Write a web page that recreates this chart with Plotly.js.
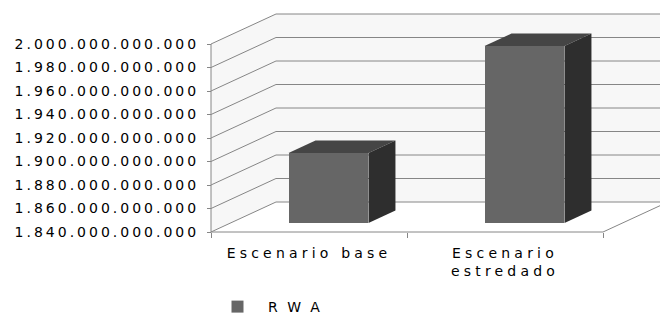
<!DOCTYPE html>
<html>
<head>
<meta charset="utf-8">
<script src="https://cdn.plot.ly/plotly-3.0.1.min.js"></script>
<style>
  html, body { margin: 0; padding: 0; background: #fff; }
  #chart { width: 660px; height: 318px; }
  .ytick text { letter-spacing: 3px; }
  .xtick text { letter-spacing: 4.2px; }
  .legendtext { letter-spacing: 10px; }
</style>
</head>
<body>
<div id="chart"></div>
<script>
// ---- data ----
const categories = ['Escenario base', 'Escenario estredado'];
const categoryLabels = ['Escenario base', 'Escenario<br>estredado'];
const seriesName = 'RWA';
const rwaValues = [1899600000000, 1990600000000];
const yTickValues = [1840000000000, 1860000000000, 1880000000000, 1900000000000,
                     1920000000000, 1940000000000, 1960000000000, 1980000000000, 2000000000000];

// ---- 3D projection parameters (oblique depth in axis units) ----
const yMin = yTickValues[0], yMax = yTickValues[yTickValues.length - 1];
const nCat = categories.length;
const xLeft = -0.5, xRight = nCat - 0.5;
const depthX = 0.3316;                      // full depth, category units
const depthY = (yMax - yMin) * 30 / 188;    // full depth, value units
const barFront = 0.30;                      // bar front face depth fraction
const barDepth = 0.415;                     // bar depth fraction
const barWidth = 0.408;

const gridColor = '#868686';
const wallFill = '#f7f7f7';
const shapes = [];

// left wall
shapes.push({type:'path', xref:'x', yref:'y', layer:'below', line:{width:0}, fillcolor: wallFill,
  path:`M${xLeft},${yMin} L${xLeft+depthX},${yMin+depthY} L${xLeft+depthX},${yMax+depthY} L${xLeft},${yMax} Z`});
// back wall
shapes.push({type:'rect', xref:'x', yref:'y', layer:'below', line:{width:0}, fillcolor: wallFill,
  x0: xLeft+depthX, x1: xRight+5, y0: yMin+depthY, y1: yMax+depthY});
// floor
shapes.push({type:'path', xref:'x', yref:'y', layer:'below', line:{width:0}, fillcolor:'#ffffff',
  path:`M${xLeft},${yMin} L${xRight},${yMin} L${xRight+depthX},${yMin+depthY} L${xLeft+depthX},${yMin+depthY} Z`});
// gridlines: left wall diagonals + back wall horizontals
yTickValues.forEach(v => {
  shapes.push({type:'line', xref:'x', yref:'y', layer:'below', line:{color:gridColor, width:1},
    x0:xLeft, y0:v, x1:xLeft+depthX, y1:v+depthY});
  shapes.push({type:'line', xref:'x', yref:'y', layer:'below', line:{color:gridColor, width:1},
    x0:xLeft+depthX, y0:v+depthY, x1:xRight+5, y1:v+depthY});
});
// value axis line (front left edge)
shapes.push({type:'line', xref:'x', yref:'y', layer:'below', line:{color:gridColor, width:1},
  x0:xLeft, y0:yMin, x1:xLeft, y1:yMax});
// floor front edge + right diagonal
shapes.push({type:'line', xref:'x', yref:'y', layer:'below', line:{color:gridColor, width:1},
  x0:xLeft, y0:yMin, x1:xRight, y1:yMin});
shapes.push({type:'line', xref:'x', yref:'y', layer:'below', line:{color:gridColor, width:1},
  x0:xRight, y0:yMin, x1:xRight+depthX, y1:yMin+depthY});

// bar top & side faces
const fdx = barFront*depthX, fdy = barFront*depthY;
const bdx = barDepth*depthX, bdy = barDepth*depthY;
const barBase = yMin + fdy;
rwaValues.forEach((v, i) => {
  const xl = i + fdx - barWidth/2, xr = i + fdx + barWidth/2;
  const yt = v + fdy;
  shapes.push({type:'path', xref:'x', yref:'y', layer:'above', line:{width:0}, fillcolor:'#454545',
    path:`M${xl},${yt} L${xr},${yt} L${xr+bdx},${yt+bdy} L${xl+bdx},${yt+bdy} Z`});
  shapes.push({type:'path', xref:'x', yref:'y', layer:'above', line:{width:0}, fillcolor:'#2e2e2e',
    path:`M${xr},${barBase} L${xr},${yt} L${xr+bdx},${yt+bdy} L${xr+bdx},${barBase+bdy} Z`});
});

const trace = {
  type: 'bar',
  name: seriesName,
  x: categories.map((c, i) => i),
  y: rwaValues.map(v => v - yMin),
  base: rwaValues.map(() => barBase),
  width: barWidth,
  offset: fdx - barWidth/2,
  marker: {color:'#666666', line:{width:0}},
  showlegend: true,
  hoverinfo: 'none'
};

// pixel mapping: front plane x from 211 to 603, y from 232 (yMin) to 44 (yMax)
const W = 660, H = 318;
const pxPerCat = (603 - 211) / nCat;
const xr0 = xLeft - 211 / pxPerCat;
const xr1 = xRight + (W - 603) / pxPerCat;
const valPerPx = (yMax - yMin) / 188;
const yr0 = yMin - (H - 232) * valPerPx;
const yr1 = yMax + 44 * valPerPx;

const font = {family: '"DejaVu Sans", sans-serif', size: 14, color: '#000000'};

const layout = {
  width: W, height: H,
  margin: {l:0, r:0, t:0, b:0, pad:0, autoexpand: false},
  paper_bgcolor: '#ffffff', plot_bgcolor: 'rgba(0,0,0,0)',
  separators: ',.',
  font: font,
  bargap: 0,
  xaxis: {
    type: 'linear', range: [xr0, xr1], domain: [0, 1],
    anchor: 'free', position: (H - 232) / H,
    showgrid: false, zeroline: false, showline: false, automargin: false,
    tickmode: 'array', tickvals: categories.map((c, i) => i), ticktext: categoryLabels,
    ticks: '', tickfont: font, ticklabelstandoff: 11,
    minor: {tickmode: 'array', tickvals: [-0.5, 0.5, 1.5], ticks: 'outside', ticklen: 5,
            tickcolor: gridColor, tickwidth: 1, showgrid: false},
    fixedrange: true
  },
  yaxis: {
    type: 'linear', range: [yr0, yr1], domain: [0, 1],
    anchor: 'free', position: 211 / W, side: 'left', automargin: false,
    showgrid: false, zeroline: false, showline: false,
    tickmode: 'array', tickvals: yTickValues, tickformat: ',.0f',
    ticks: 'outside', ticklen: 4, tickcolor: gridColor, tickwidth: 1,
    tickfont: font, ticklabelstandoff: 5,
    fixedrange: true
  },
  shapes: shapes,
  showlegend: true,
  legend: {
    x: 207 / W, y: (H - 307) / H, xanchor: 'left', yanchor: 'middle',
    orientation: 'h', itemwidth: 51, entrywidth: 150,
    font: {family: '"DejaVu Sans", sans-serif', size: 14, color: '#000000'},
    bgcolor: 'rgba(0,0,0,0)', borderwidth: 0
  }
};

Plotly.newPlot('chart', [trace], layout, {displayModeBar: false, staticPlot: true});
</script>
</body>
</html>
